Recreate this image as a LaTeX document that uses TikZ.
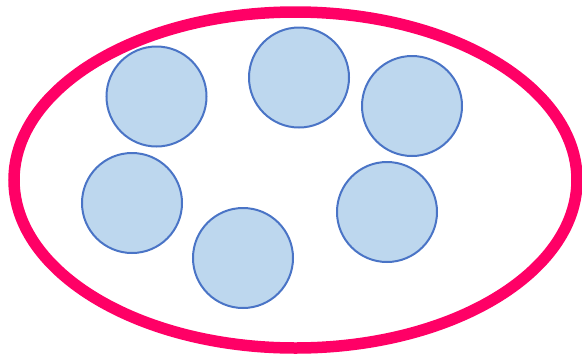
\documentclass[tikz,border=0pt]{standalone}
\definecolor{ringred}{HTML}{FF0066}
\definecolor{ballfill}{HTML}{BDD7EE}
\definecolor{balledge}{HTML}{4A74C6}
\begin{document}
\begin{tikzpicture}[x=1pt,y=-1pt,
  ball/.style={circle,draw=balledge,fill=ballfill,line width=2pt,minimum size=100pt,inner sep=0pt},
  ring/.style={draw=ringred,line width=11.5pt}]
\useasboundingbox (0,0) rectangle (582,357);
\draw[ring] (295.5,180) ellipse [x radius=281.5, y radius=168];
\node[ball] (b1) at (156.5,96.5) {};
\node[ball] (b2) at (299,77.5) {};
\node[ball] (b3) at (412,106) {};
\node[ball] (b4) at (132,203) {};
\node[ball] (b5) at (243,258) {};
\node[ball] (b6) at (387,212) {};
\end{tikzpicture}
\end{document}
